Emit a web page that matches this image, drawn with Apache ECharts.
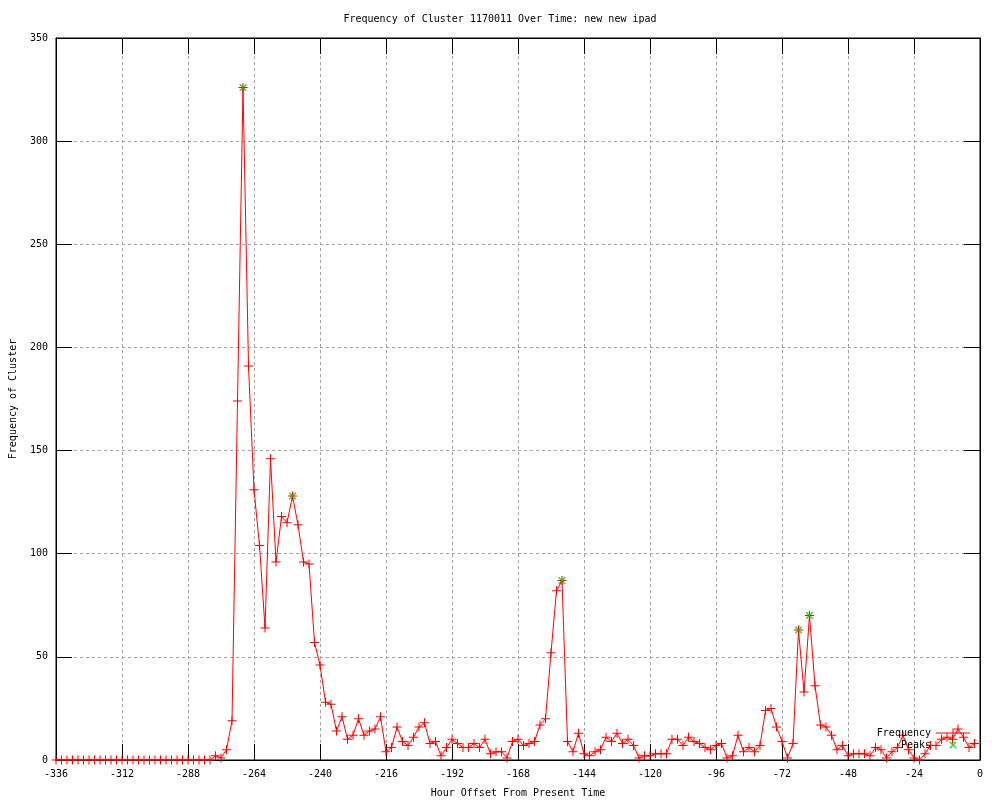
<!DOCTYPE html>
<html>
<head>
<meta charset="utf-8">
<script src="https://cdn.jsdelivr.net/npm/echarts@6/dist/echarts.min.js"></script>
<style>html,body{margin:0;padding:0;background:#fff}#c{width:1000px;height:800px}</style>
</head>
<body>
<div id="c"></div>
<script>
// Frequency values every 2 hours, from hour -336 to hour -2
var startHour = -336;
var stepHours = 2;
var frequency = [
  0,0,0,0,0,0,0,0,0,0,
  0,0,0,0,0,0,0,0,0,0,
  0,0,0,0,0,0,0,0,0,2,
  1,5,19,174,326,191,131,104,64,146,
  96,118,115,128,114,96,95,57,46,28,
  27,14,21,10,12,20,12,14,15,21,
  4,6,16,9,7,11,16,18,8,9,
  2,6,10,8,6,6,8,6,10,3,
  4,4,1,9,10,7,8,9,17,20,
  52,82,87,9,4,13,3,2,4,5,
  11,9,13,8,10,7,1,2,2,3,
  3,3,10,10,7,11,9,8,6,5,
  7,8,1,2,12,4,6,4,7,24,
  25,16,9,1,8,63,33,70,36,17,
  16,12,5,7,2,3,3,3,2,6,
  5,1,4,6,12,5,1,0,3,7,
  7,10,11,10,15,11,6,8
];
var peakHours = [-268, -250, -152, -66, -62];
var peakValues = [326, 128, 87, 63, 70];
var xTicks = {min: -336, max: 0, interval: 24};
var yTicks = {min: 0, max: 350, interval: 50};

var freqData = frequency.map(function (v, i) { return [startHour + i * stepHours, v]; });
var peakData = peakHours.map(function (h, i) { return [h, peakValues[i]]; });

var FONT = 'DejaVu Sans Mono';
var plusSym = 'path://M0,4 L9,4 L9,5 L0,5 Z M4,0 L5,0 L5,9 L4,9 Z';
var xSym = 'path://M0,0 L1,0 L7,6 L7,7 L6,7 L0,1 Z M6,0 L7,0 L7,1 L1,7 L0,7 L0,6 Z';
var freqIcon = 'path://M0,4.5 L34,4.5 L34,5.5 L0,5.5 Z M16.5,0.5 L17.5,0.5 L17.5,9.5 L16.5,9.5 Z M0,0 L0.01,0 L0,0.01 Z M34,10 L33.99,10 L34,9.99 Z';
var peakIcon = 'path://M0,0 L0.01,0 L0,0.01 Z M34,10 L33.99,10 L34,9.99 Z M13.5,1.5 L14.5,1.5 L20.5,7.5 L20.5,8.5 L19.5,8.5 L13.5,2.5 Z M19.5,1.5 L20.5,1.5 L20.5,2.5 L14.5,8.5 L13.5,8.5 L13.5,7.5 Z';

var tickCommon = {show: true, inside: true, length: 16, lineStyle: {color: '#000', width: 1}};
var axisLineCommon = {show: true, onZero: false, lineStyle: {color: '#000', width: 1}};
var splitCommon = {show: true, lineStyle: {color: '#a0a0a0', width: 1, type: [3, 3]}};
var labelCommon = {fontFamily: FONT, fontSize: 10, color: '#000'};

var chart = echarts.init(document.getElementById('c'), null, {renderer: 'canvas'});
chart.setOption({
  animation: false,
  backgroundColor: '#fff',
  title: {
    text: 'Frequency of Cluster 1170011 Over Time: new new ipad',
    left: 'center', top: 14, padding: 0,
    textStyle: {fontFamily: FONT, fontSize: 10, fontWeight: 'normal', color: '#000'}
  },
  legend: {
    orient: 'vertical', align: 'right', right: 30, top: 728, padding: 0,
    itemWidth: 34, itemHeight: 10, itemGap: 2,
    textStyle: {fontFamily: FONT, fontSize: 10, color: '#000'},
    data: [
      {name: 'Frequency', icon: freqIcon, itemStyle: {color: '#ff0000', borderWidth: 0}},
      {name: 'Peaks', icon: peakIcon, itemStyle: {color: '#00c000', borderWidth: 0}}
    ]
  },
  grid: {left: 56, right: 20, top: 38, bottom: 40, containLabel: false, outerBoundsMode: 'none',
         show: true, borderColor: '#000', borderWidth: 1, backgroundColor: 'transparent'},
  xAxis: [{
    type: 'value', min: xTicks.min, max: xTicks.max, interval: xTicks.interval,
    name: 'Hour Offset From Present Time', nameLocation: 'middle', nameGap: 28,
    nameTextStyle: labelCommon,
    axisLine: axisLineCommon, axisTick: tickCommon, splitLine: splitCommon,
    axisLabel: Object.assign({margin: 9}, labelCommon)
  }, {
    type: 'value', position: 'top', min: xTicks.min, max: xTicks.max, interval: xTicks.interval,
    axisLine: axisLineCommon, axisTick: tickCommon, splitLine: {show: false},
    axisLabel: {show: false}
  }],
  yAxis: [{
    type: 'value', position: 'left', min: yTicks.min, max: yTicks.max, interval: yTicks.interval,
    name: 'Frequency of Cluster', nameLocation: 'middle', nameGap: 38, nameRotate: 90,
    nameTextStyle: labelCommon,
    axisLine: axisLineCommon, axisTick: tickCommon, splitLine: splitCommon,
    axisLabel: Object.assign({margin: 8}, labelCommon)
  }, {
    type: 'value', position: 'right', min: yTicks.min, max: yTicks.max, interval: yTicks.interval,
    axisLine: axisLineCommon, axisTick: tickCommon, splitLine: {show: false},
    axisLabel: {show: false}
  }],
  series: [{
    name: 'Frequency', type: 'line', data: freqData,
    xAxisIndex: 0, yAxisIndex: 0,
    symbol: plusSym, symbolSize: 9, showAllSymbol: true,
    lineStyle: {color: '#ff0000', width: 1},
    itemStyle: {color: '#ff0000', borderWidth: 0},
    emphasis: {disabled: true}, z: 3
  }, {
    name: 'Peaks', type: 'scatter', data: peakData,
    xAxisIndex: 0, yAxisIndex: 0,
    symbol: xSym, symbolSize: 7,
    itemStyle: {color: '#00c000', borderWidth: 0},
    emphasis: {disabled: true}, z: 4
  }]
});
</script>
</body>
</html>
